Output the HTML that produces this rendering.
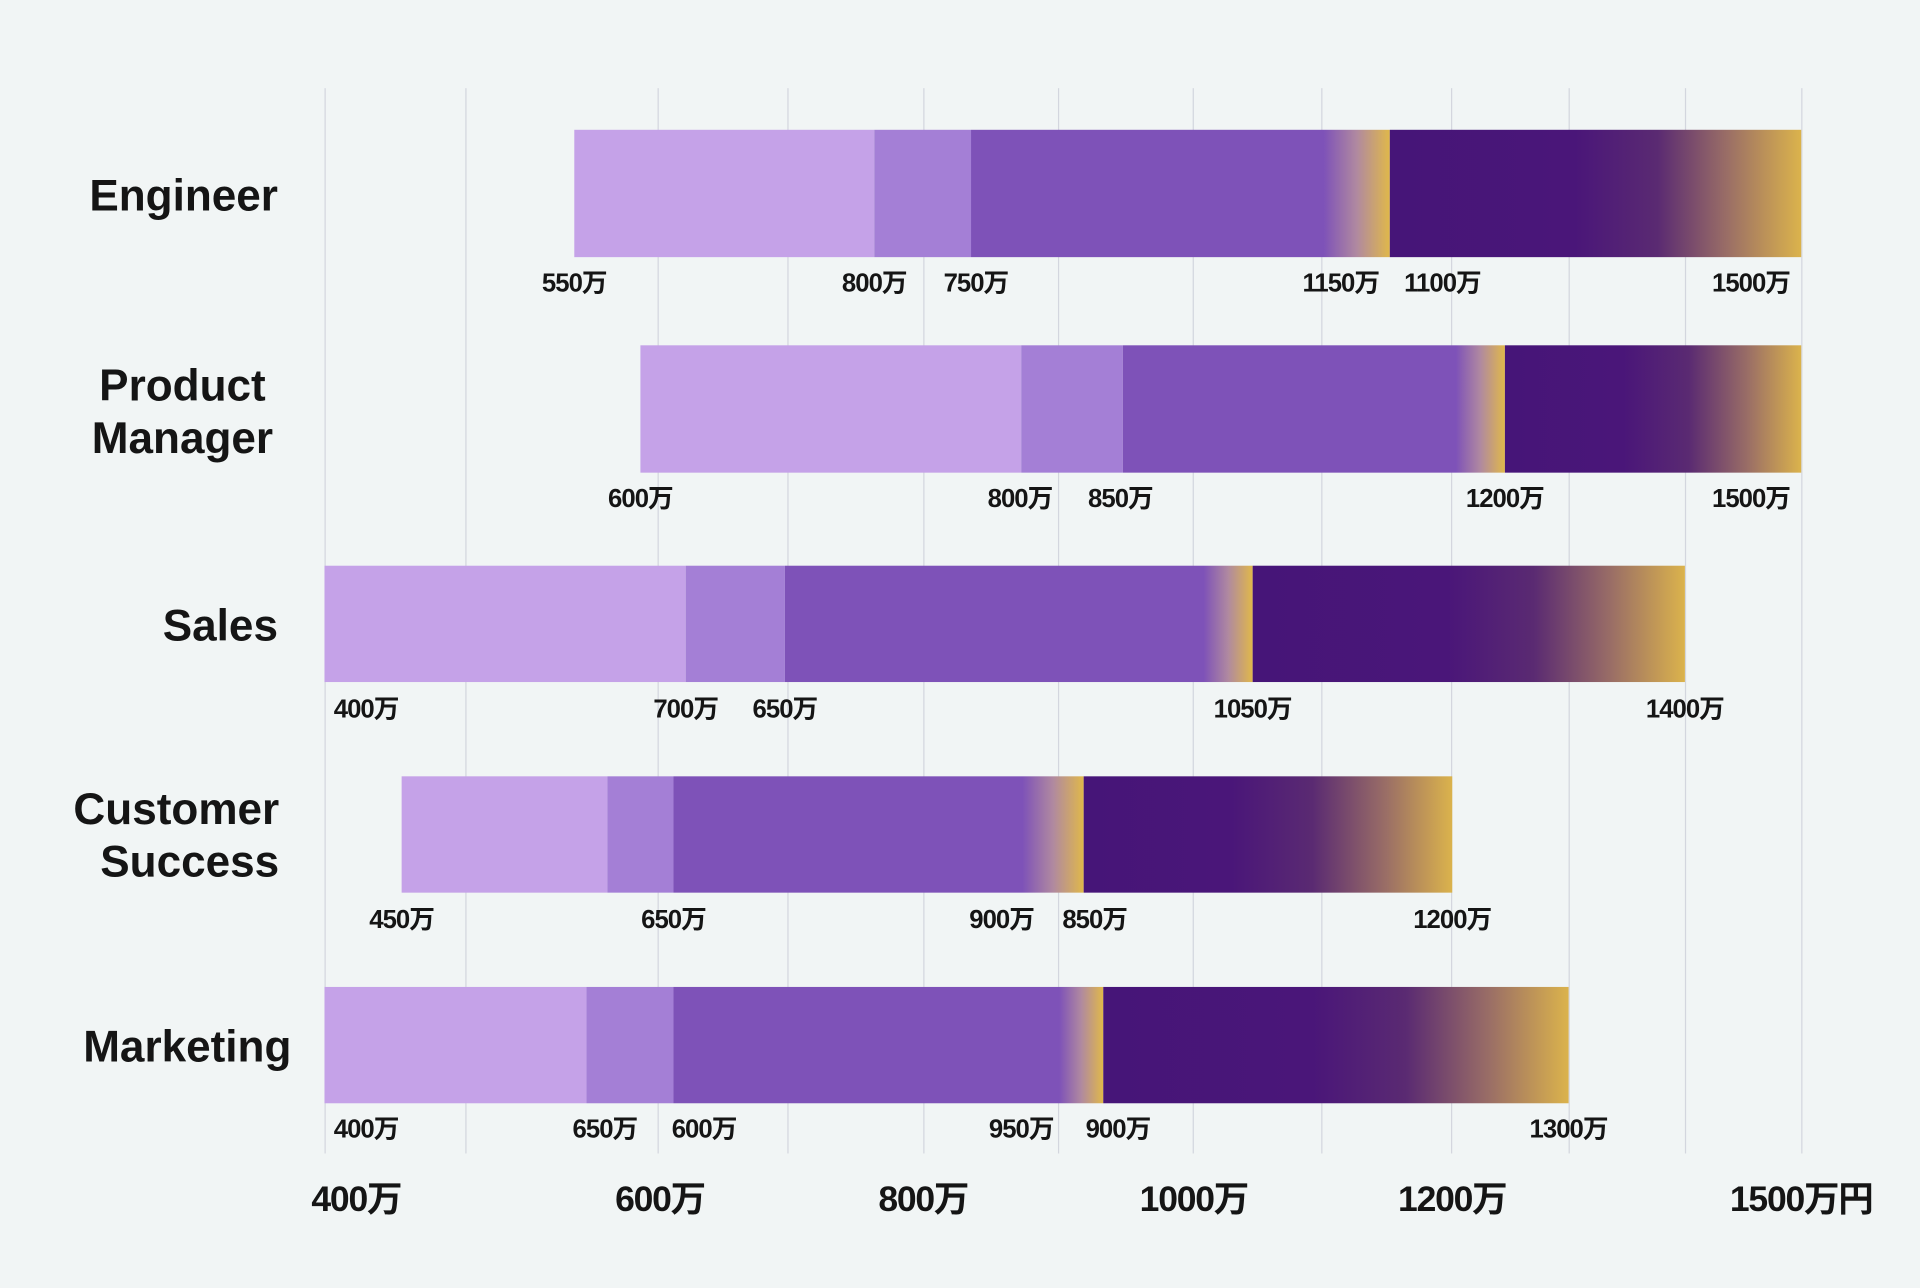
<!DOCTYPE html>
<html><head><meta charset="utf-8"><style>
html,body{margin:0;padding:0;background:#f1f5f5;}
body{width:1920px;height:1288px;overflow:hidden;position:relative;}
#w{position:absolute;left:0;top:0;width:1568px;height:1052px;transform:scale(1.22449);transform-origin:0 0;font-family:"Liberation Sans","Noto Sans CJK JP",sans-serif;color:#151515;}
.g{position:absolute;top:72px;height:870px;width:1px;background:#d3d6de;}
.b{position:absolute;}
.cat{position:absolute;font-size:36px;font-weight:bold;line-height:43px;text-align:right;}
.l{position:absolute;font-size:21px;font-weight:bold;transform:translateX(-50%);white-space:nowrap;letter-spacing:-0.8px;}
.ax{position:absolute;top:956px;font-size:29px;font-weight:bold;transform:translateX(-50%);letter-spacing:-1px;white-space:nowrap;}
</style></head><body><div id="w">
<div class="g" style="left:265px"></div><div class="g" style="left:380px"></div><div class="g" style="left:537px"></div><div class="g" style="left:643px"></div><div class="g" style="left:754px"></div><div class="g" style="left:864px"></div><div class="g" style="left:974px"></div><div class="g" style="left:1079px"></div><div class="g" style="left:1185px"></div><div class="g" style="left:1281px"></div><div class="g" style="left:1376px"></div><div class="g" style="left:1471px"></div>

<div class="b" style="left:469px;top:106px;width:245px;height:104px;background:#c5a2e8"></div>
<div class="b" style="left:714px;top:106px;width:79px;height:104px;background:#a47fd6"></div>
<div class="b" style="left:793px;top:106px;width:342px;height:104px;background:linear-gradient(90deg,#7e52b8 0,#7e52b8 288px,#b089a0 315px,#e0b84a 342px)"></div>
<div class="b" style="left:1135px;top:106px;width:336px;height:104px;background:linear-gradient(90deg,#461578 0,#4a1679 45%,#5a2a72 65%,#9a6e66 82%,#dbb34c 100%)"></div>

<div class="b" style="left:523px;top:282px;width:311px;height:104px;background:#c5a2e8"></div>
<div class="b" style="left:834px;top:282px;width:83px;height:104px;background:#a47fd6"></div>
<div class="b" style="left:917px;top:282px;width:312px;height:104px;background:linear-gradient(90deg,#7e52b8 0,#7e52b8 272px,#b089a0 292px,#e0b84a 312px)"></div>
<div class="b" style="left:1229px;top:282px;width:242px;height:104px;background:linear-gradient(90deg,#461578 0,#4a1679 40%,#5a2a72 62%,#9a6e66 82%,#dbb34c 100%)"></div>

<div class="b" style="left:265px;top:462px;width:295px;height:95px;background:#c5a2e8"></div>
<div class="b" style="left:560px;top:462px;width:81px;height:95px;background:#a47fd6"></div>
<div class="b" style="left:641px;top:462px;width:382px;height:95px;background:linear-gradient(90deg,#7e52b8 0,#7e52b8 342px,#b089a0 362px,#e0b84a 382px)"></div>
<div class="b" style="left:1023px;top:462px;width:353px;height:95px;background:linear-gradient(90deg,#461578 0,#4a1679 45%,#5a2a72 65%,#9a6e66 83%,#dbb34c 100%)"></div>

<div class="b" style="left:328px;top:634px;width:168px;height:95px;background:#c5a2e8"></div>
<div class="b" style="left:496px;top:634px;width:54px;height:95px;background:#a47fd6"></div>
<div class="b" style="left:550px;top:634px;width:335px;height:95px;background:linear-gradient(90deg,#7e52b8 0,#7e52b8 285px,#b089a0 310px,#e0b84a 335px)"></div>
<div class="b" style="left:885px;top:634px;width:301px;height:95px;background:linear-gradient(90deg,#461578 0,#4a1679 40%,#5a2a72 62%,#9a6e66 82%,#dbb34c 100%)"></div>

<div class="b" style="left:265px;top:806px;width:214px;height:95px;background:#c5a2e8"></div>
<div class="b" style="left:479px;top:806px;width:71px;height:95px;background:#a47fd6"></div>
<div class="b" style="left:550px;top:806px;width:351px;height:95px;background:linear-gradient(90deg,#7e52b8 0,#7e52b8 315px,#b089a0 333px,#e0b84a 351px)"></div>
<div class="b" style="left:901px;top:806px;width:380px;height:95px;background:linear-gradient(90deg,#461578 0,#4a1679 45%,#5a2a72 65%,#9a6e66 83%,#dbb34c 100%)"></div>

<div class="cat" style="right:1341px;top:138px">Engineer</div>
<div class="cat" style="left:70px;width:158px;text-align:center;top:293px">Product<br>Manager</div>
<div class="cat" style="right:1341px;top:489px">Sales</div>
<div class="cat" style="right:1340px;top:639px">Customer<br>Success</div>
<div class="cat" style="right:1330px;top:833px">Marketing</div>

<div class="l" style="left:469px;top:215px">550万</div><div class="l" style="left:714px;top:215px">800万</div><div class="l" style="left:797px;top:215px">750万</div><div class="l" style="left:1095px;top:215px">1150万</div><div class="l" style="left:1178px;top:215px">1100万</div><div class="l" style="left:1430px;top:215px">1500万</div>
<div class="l" style="left:523px;top:391px">600万</div><div class="l" style="left:833px;top:391px">800万</div><div class="l" style="left:915px;top:391px">850万</div><div class="l" style="left:1229px;top:391px">1200万</div><div class="l" style="left:1430px;top:391px">1500万</div>
<div class="l" style="left:299px;top:563px">400万</div><div class="l" style="left:560px;top:563px">700万</div><div class="l" style="left:641px;top:563px">650万</div><div class="l" style="left:1023px;top:563px">1050万</div><div class="l" style="left:1376px;top:563px">1400万</div>
<div class="l" style="left:328px;top:735px">450万</div><div class="l" style="left:550px;top:735px">650万</div><div class="l" style="left:818px;top:735px">900万</div><div class="l" style="left:894px;top:735px">850万</div><div class="l" style="left:1186px;top:735px">1200万</div>
<div class="l" style="left:299px;top:906px">400万</div><div class="l" style="left:494px;top:906px">650万</div><div class="l" style="left:575px;top:906px">600万</div><div class="l" style="left:834px;top:906px">950万</div><div class="l" style="left:913px;top:906px">900万</div><div class="l" style="left:1281px;top:906px">1300万</div>

<div class="ax" style="left:291px">400万</div><div class="ax" style="left:539px">600万</div><div class="ax" style="left:754px">800万</div><div class="ax" style="left:975px">1000万</div><div class="ax" style="left:1186px">1200万</div><div class="ax" style="left:1471px">1500万円</div>
</div></body></html>
